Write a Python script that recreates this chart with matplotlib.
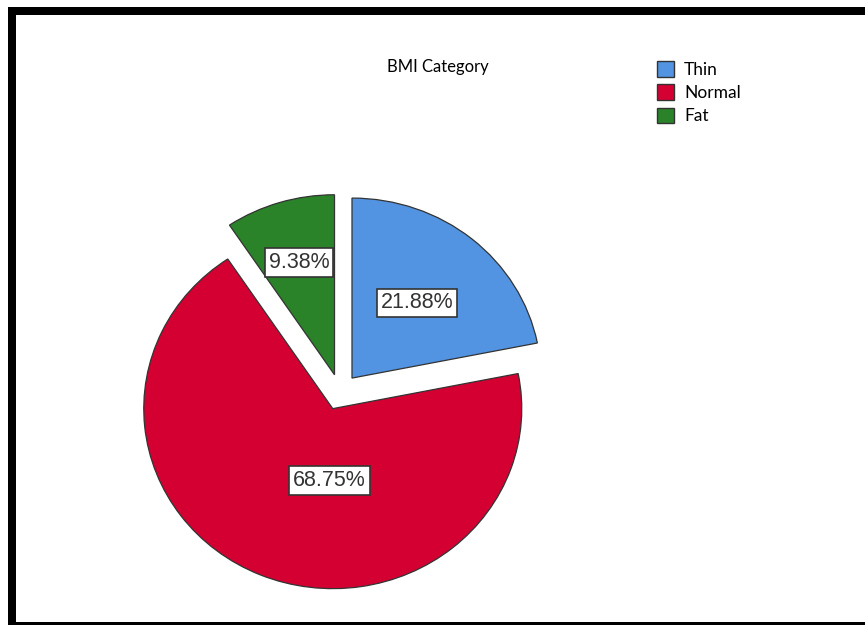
import numpy as np
import matplotlib
matplotlib.use("Agg")
import matplotlib.pyplot as plt
from matplotlib.patches import Rectangle, Patch

# data
categories = ["Thin", "Normal", "Fat"]
percents = [21.88, 68.75, 9.38]
colors = ["#5294E2", "#D50032", "#2A8229"]

# where SPSS put the % boxes (radius from slice apex, angle shift in deg)
label_r = [0.54, 0.40, 0.65]
label_shift = [0, 20, 0]

fig = plt.figure(figsize=(8.65, 6.25), dpi=100)
W, H = 865, 625

# pie axes, slightly squashed vertically like the original
cx, cy = 340, 392
rx, ry = 189, 180
ax = fig.add_axes([(cx - 1.2 * rx) / W, (H - cy - 1.2 * ry) / H, 2.4 * rx / W, 2.4 * ry / H])

wedges, _ = ax.pie(percents, colors=colors, startangle=90, counterclock=False,
                   explode=[0.1] * 3, radius=1.0,
                   wedgeprops=dict(edgecolor="#333333", linewidth=0.9))
ax.set_aspect("auto")
ax.set_xlim(-1.2, 1.2)
ax.set_ylim(-1.2, 1.2)
ax.axis("off")

for w, p, r, s in zip(wedges, percents, label_r, label_shift):
    mid = np.deg2rad((w.theta1 + w.theta2) / 2 + s)
    ox, oy = w.center
    ax.text(ox + r * np.cos(mid), oy + r * np.sin(mid), f"{p:.2f}%",
            ha="center", va="center", fontsize=15.5, color="#333333",
            family="Liberation Sans",
            bbox=dict(boxstyle="square,pad=0.18", fc="white", ec="#333333", lw=1.2))

fig.text(438 / W, 1 - 67 / H, "BMI Category", ha="center", va="center",
         fontsize=12, family="Lato", color="black")

handles = [Patch(facecolor=c, edgecolor="#333333", lw=1) for c in colors]
fig.legend(handles, categories, loc="upper left",
           bbox_to_anchor=(657 / W, 1 - 61 / H), frameon=False,
           handlelength=1.0, handleheight=1.0, handletextpad=0.55,
           labelspacing=0.38, borderpad=0, borderaxespad=0,
           prop=dict(family="Lato", size=12.5))

# thick black frame, cut off on the right and bottom
fig.patches.append(Rectangle((12 / W, -1 / H), 900 / W, (H - 11 + 1) / H,
                             transform=fig.transFigure, fill=False,
                             ec="black", lw=8 * 0.72, figure=fig))

fig.savefig("out.png", dpi=100)
